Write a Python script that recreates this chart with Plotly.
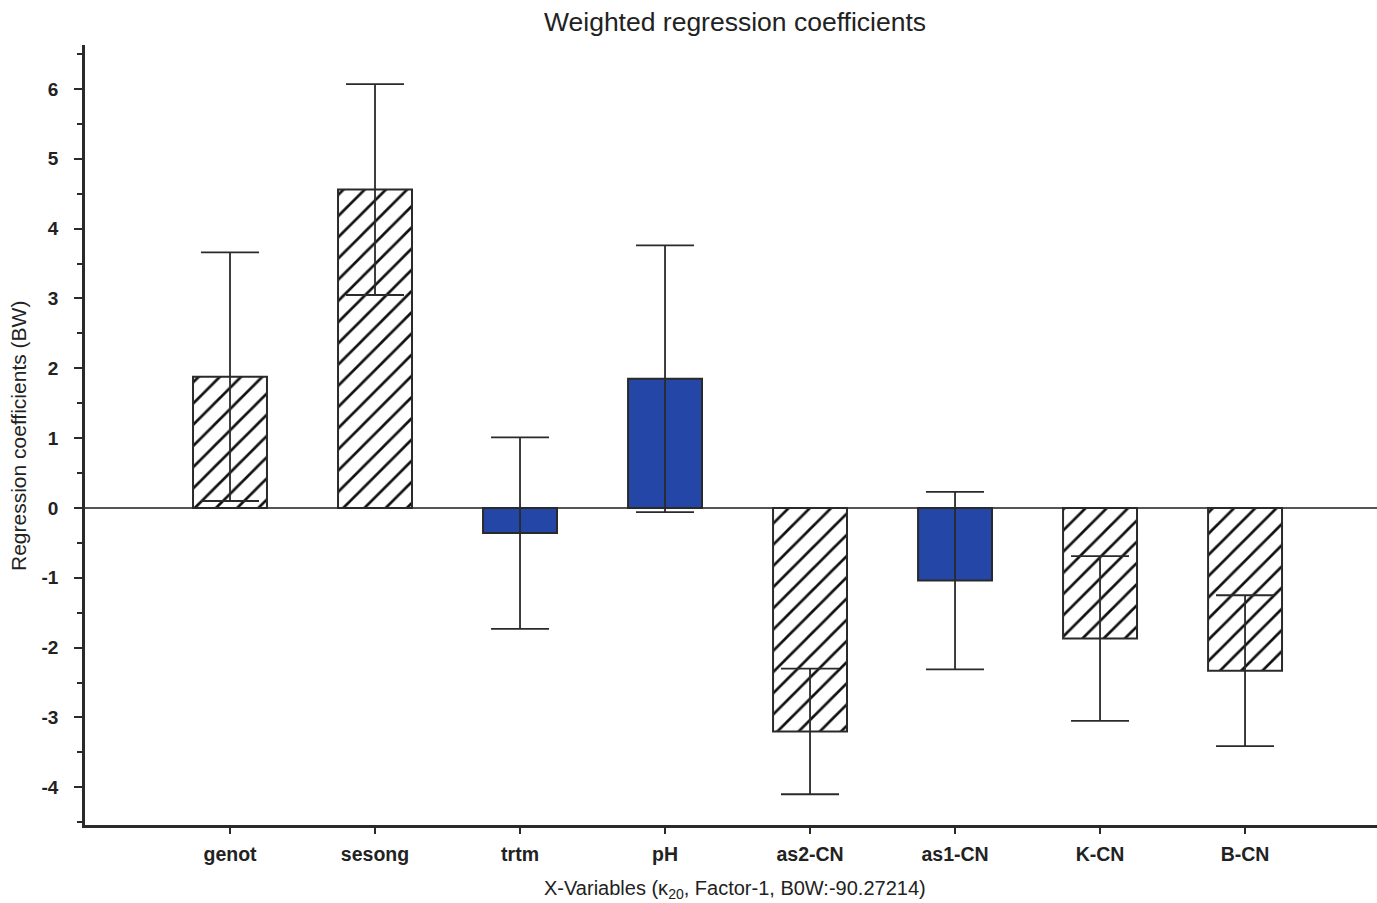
import plotly.graph_objects as go

categories = ["genot", "sesong", "trtm", "pH", "as2-CN", "as1-CN", "K-CN", "B-CN"]
values = [1.88, 4.56, -0.36, 1.85, -3.20, -1.04, -1.87, -2.33]
errors = [1.78, 1.51, 1.37, 1.91, 0.90, 1.27, 1.18, 1.08]
hatched = [True, True, False, False, True, False, True, True]
y_ticks = [-4, -3, -2, -1, 0, 1, 2, 3, 4, 5, 6]
y_minor = [-4.5, -3.5, -2.5, -1.5, -0.5, 0.5, 1.5, 2.5, 3.5, 4.5, 5.5, 6.5]

BLUE = "#2446A6"
INK = "#2a2a2a"

xs = list(range(len(categories)))

def subset(flag):
    idx = [i for i in xs if hatched[i] == flag]
    return ([xs[i] for i in idx], [values[i] for i in idx], [errors[i] for i in idx])

fig = go.Figure()
hx, hy, he = subset(True)
fig.add_trace(go.Bar(
    x=hx, y=hy, width=0.51,
    marker=dict(color="white", line=dict(color=INK, width=2),
                pattern=dict(shape="/", fgcolor="#111", bgcolor="white", size=15,
                             solidity=0.18, fgopacity=1)),
    error_y=dict(type="data", array=he, visible=True, color=INK, thickness=1.8, width=29),
    showlegend=False,
))
sx, sy, se = subset(False)
fig.add_trace(go.Bar(
    x=sx, y=sy, width=0.51,
    marker=dict(color=BLUE, line=dict(color=INK, width=2)),
    error_y=dict(type="data", array=se, visible=True, color=INK, thickness=1.8, width=29),
    showlegend=False,
))

W, H = 1377, 903
L, T, B = 85, 45, 78
fig.update_layout(
    width=W, height=H,
    paper_bgcolor="white", plot_bgcolor="white",
    margin=dict(l=L, r=0, t=T, b=B),
    barmode="overlay",
    font=dict(family="Liberation Sans, Arial, sans-serif", color="#222"),
    title=dict(text="Weighted regression coefficients", x=735 / W, xanchor="center",
               y=1 - 22 / H, yanchor="middle", font=dict(size=26.5, color="#222")),
    annotations=[
        dict(text="Regression coefficients (BW)", xref="paper", yref="paper",
             x=-(L - 18) / (W - L), y=((H - B) - 436) / (H - B - T), xanchor="center", yanchor="middle",
             textangle=-90, showarrow=False, font=dict(size=21, color="#222")),
        dict(text="X-Variables (κ<sub>20</sub>, Factor-1, B0W:-90.27214)", xref="paper", yref="paper",
             x=(735 - L) / (W - L), y=-(890 - (H - B)) / (H - B - T), xanchor="center", yanchor="middle",
             showarrow=False, font=dict(size=20, color="#222")),
    ],
)
fig.update_xaxes(
    range=[-1.0, 7.91], tickmode="array", tickvals=xs,
    ticktext=["<b>%s</b>" % c for c in categories],
    showline=True, linecolor=INK, linewidth=2.5, mirror=False,
    ticks="outside", ticklen=6, tickwidth=2, tickcolor=INK,
    showgrid=False, zeroline=False, automargin=False, ticklabelstandoff=4,
    tickfont=dict(size=19.5, color="#222"),
)
fig.update_yaxes(
    range=[-4.54, 6.63], tickmode="array", tickvals=y_ticks,
    ticktext=["<b>%d</b>" % v for v in y_ticks],
    showline=True, linecolor=INK, linewidth=2.5,
    ticks="outside", ticklen=8, tickwidth=2, tickcolor=INK,
    minor=dict(tickvals=y_minor, ticks="outside", ticklen=5, tickwidth=2, tickcolor=INK),
    showgrid=False, automargin=False, ticklabelstandoff=12,
    zeroline=True, zerolinecolor="#555", zerolinewidth=2,
    tickfont=dict(size=19, color="#222"),
)

fig.write_html("out.html", config={"displayModeBar": False},
               post_script="document.body.style.margin='0';document.body.style.overflow='hidden';")
